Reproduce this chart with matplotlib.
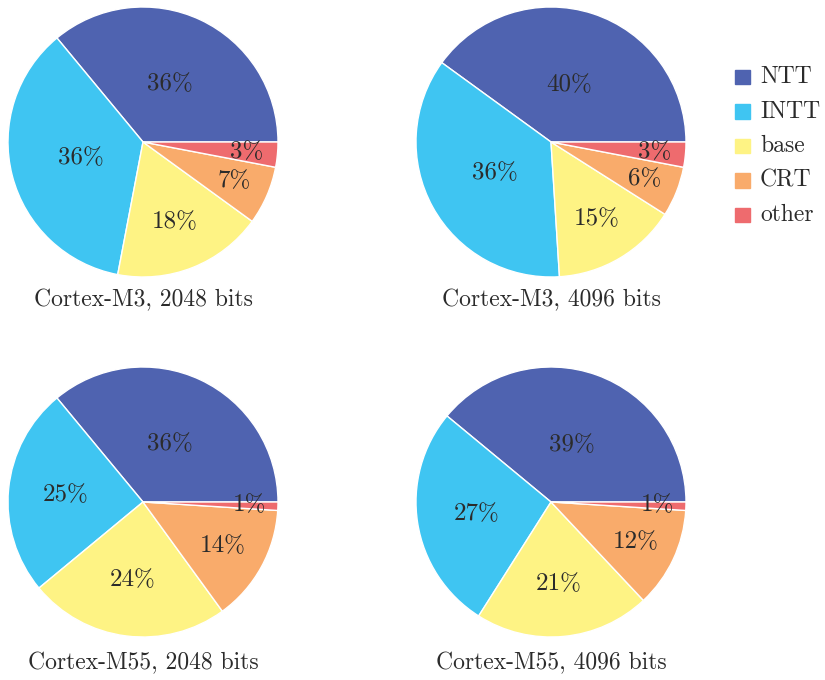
import numpy as np
import matplotlib
matplotlib.use("Agg")
import matplotlib.pyplot as plt
import matplotlib.patches as mpatches

plt.rcParams["font.family"] = ["cmr10", "DejaVu Serif"]
plt.rcParams["axes.unicode_minus"] = False

LABELS = ["NTT", "INTT", "base", "CRT", "other"]
COLORS = ["#4f63b0", "#3fc5f2", "#fef384", "#f9ab6b", "#ee6b6e"]

M3_2048 = [36, 36, 18, 7, 3]
M3_4096 = [40, 36, 15, 6, 3]
M55_2048 = [36, 25, 24, 14, 1]
M55_4096 = [39, 27, 21, 12, 1]

TITLES = [
    "Cortex-M3, 2048 bits",
    "Cortex-M3, 4096 bits",
    "Cortex-M55, 2048 bits",
    "Cortex-M55, 4096 bits",
]

W, H = 825, 680
R = 135
# pie centres in pixels (from top-left)
centres = [(143, 142), (551, 142), (143, 502), (551, 502)]
title_y = [300, 300, 663, 663]

fig = plt.figure(figsize=(W / 100, H / 100), dpi=100)

for vals, title, (cx, cy), ty in zip(
    [M3_2048, M3_4096, M55_2048, M55_4096], TITLES, centres, title_y
):
    ax = fig.add_axes([(cx - R) / W, (H - cy - R) / H, 2 * R / W, 2 * R / H])
    wedges, _ = ax.pie(
        vals,
        colors=COLORS,
        startangle=0,
        counterclock=True,
        radius=1,
        wedgeprops=dict(edgecolor="white", linewidth=1),
    )
    total = sum(vals)
    start = 0
    for v in vals:
        frac = v / total
        mid = np.deg2rad((start + frac / 2) * 360)
        d = 0.8 - 0.9 * frac
        ax.text(
            d * np.cos(mid),
            d * np.sin(mid),
            f"{v}%",
            ha="center",
            va="center",
            fontsize=18,
            color="#2b2b2b",
        )
        start += frac
    ax.set_xlim(-1, 1)
    ax.set_ylim(-1, 1)
    ax.set_aspect("equal")
    ax.axis("off")
    fig.text(cx / W, 1 - ty / H, title, ha="center", va="center", fontsize=17,
             color="#2b2b2b")

# legend, drawn by hand so it sits where the original one does
for i, (c, l) in enumerate(zip(COLORS, LABELS)):
    yc = 77 + i * 34.5
    fig.patches.append(
        mpatches.Rectangle(
            (735 / W, 1 - (yc + 7) / H), 15 / W, 14 / H,
            color=c, transform=fig.transFigure,
        )
    )
    fig.text(760 / W, 1 - yc / H, l, ha="left", va="center", fontsize=17,
             color="#2b2b2b")

fig.savefig("out.png", dpi=100)
